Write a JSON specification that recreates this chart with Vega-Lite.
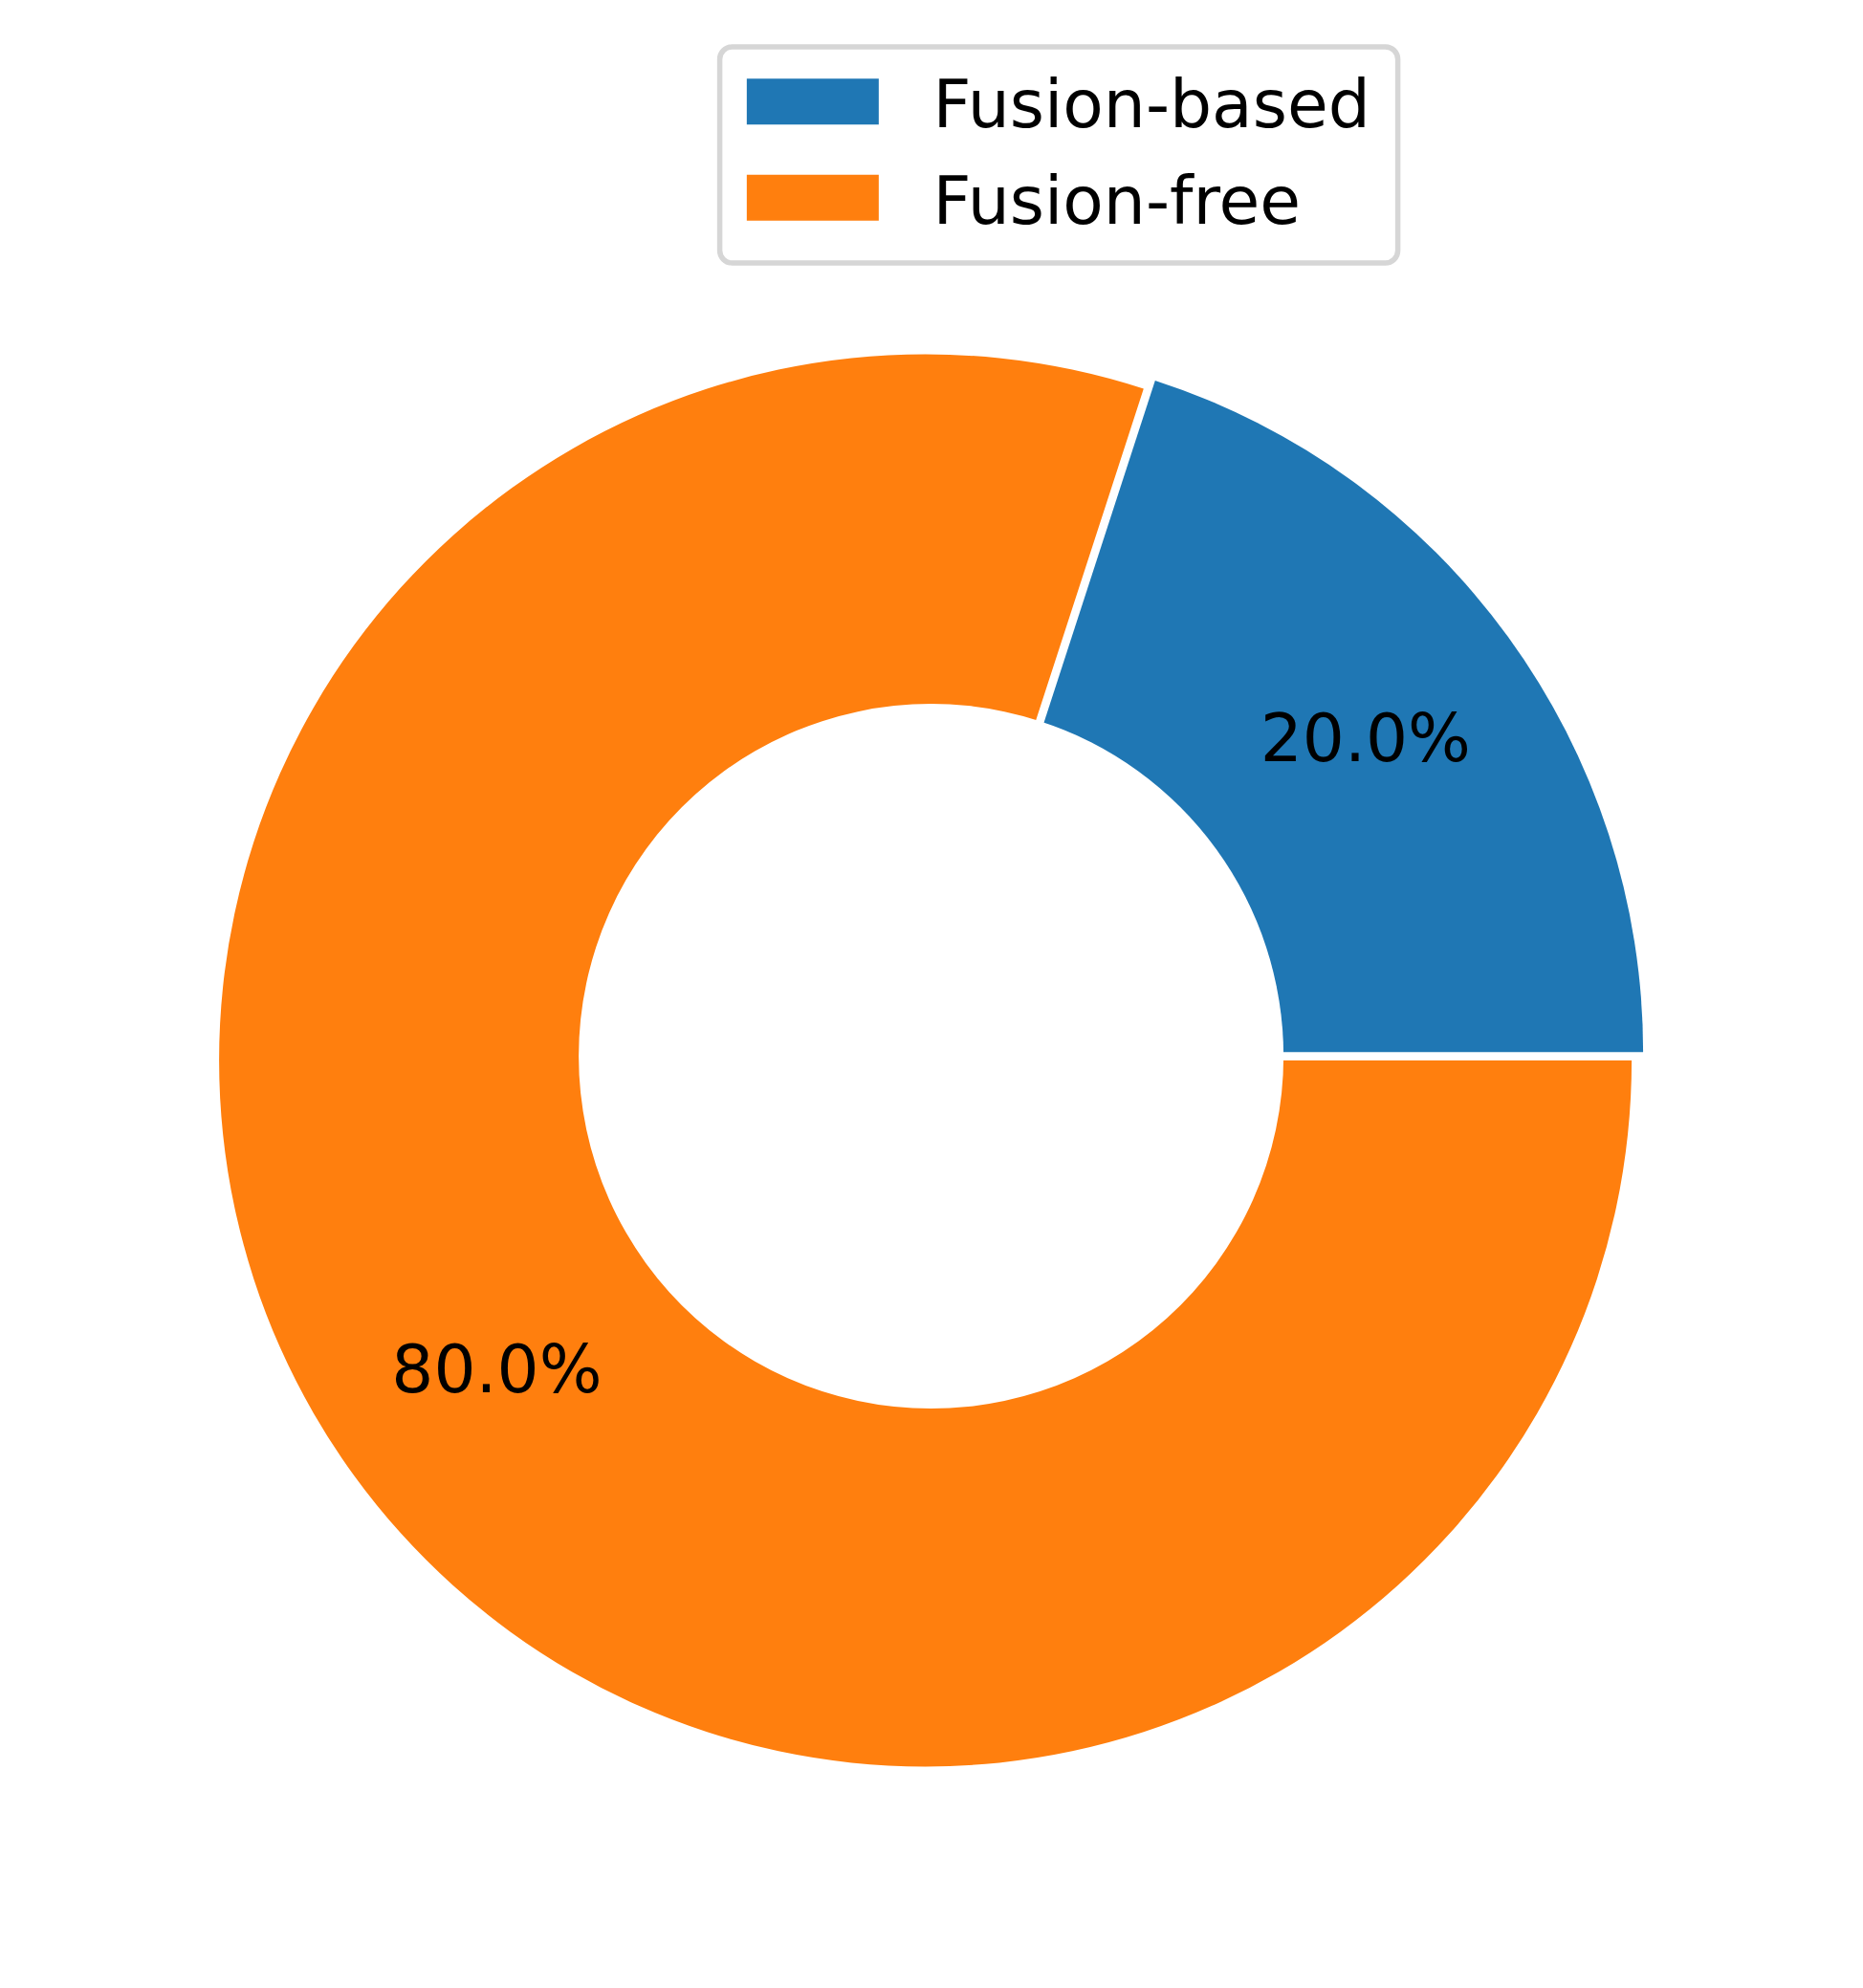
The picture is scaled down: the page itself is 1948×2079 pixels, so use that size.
{
  "$schema": "https://vega.github.io/schema/vega-lite/v6.json",
  "width": 1946,
  "height": 1937.2,
  "autosize": {"type": "none"},
  "padding": {"top": 136, "left": 0.6, "right": 1.4, "bottom": 5.8},
  "background": "white",
  "config": {"view": {"stroke": null}, "font": "DejaVu Sans"},
  "data": {
    "values": [
      {"category": "Fusion-based", "share": 20, "label": "20.0%"},
      {"category": "Fusion-free", "share": 80, "label": "80.0%"}
    ]
  },
  "encoding": {
    "theta": {"field": "share", "type": "quantitative", "stack": true, "scale": {"range": [0.3141593, 6.5973446]}},
    "order": {"field": "category", "sort": "ascending"},
    "color": {
      "field": "category",
      "type": "nominal",
      "scale": {"domain": ["Fusion-based", "Fusion-free"], "range": ["#1f77b4", "#ff7f0e"]},
      "legend": {
        "title": null,
        "orient": "none",
        "legendX": 752,
        "legendY": -87,
        "direction": "vertical",
        "symbolType": "M-1,-0.856H2.971V0.525H-1Z",
        "symbolSize": 4830.25,
        "symbolStrokeWidth": 0,
        "symbolOpacity": 1,
        "labelFontSize": 69.5,
        "labelFont": "DejaVu Sans",
        "labelColor": "black",
        "labelLimit": 1000,
        "labelOffset": 125,
        "rowPadding": 30.5,
        "padding": 28,
        "strokeColor": "#d6d6d6",
        "cornerRadius": 13,
        "fillColor": "white",
        "encode": {"legend": {"update": {"strokeWidth": {"value": 5.5}}}}
      }
    }
  },
  "layer": [
    {
      "mark": {"type": "arc", "outerRadius": 738.5, "innerRadius": 0, "xOffset": -6, "yOffset": 4.35},
      "encoding": {"opacity": {"condition": {"test": "datum.category === 'Fusion-based'", "value": 0}, "value": 1}}
    },
    {
      "mark": {"type": "arc", "outerRadius": 738.5, "innerRadius": 0, "xOffset": 6, "yOffset": -4.35},
      "encoding": {"opacity": {"condition": {"test": "datum.category === 'Fusion-free'", "value": 0}, "value": 1}}
    },
    {
      "mark": {"type": "arc", "outerRadius": 368.5, "innerRadius": 0},
      "encoding": {"color": {"value": "white"}}
    },
    {
      "mark": {"type": "text", "radius": 554, "fontSize": 69.3, "font": "DejaVu Sans", "xOffset": -6, "yOffset": 4.35},
      "encoding": {
        "text": {"field": "label"},
        "color": {"value": "black"},
        "opacity": {"condition": {"test": "datum.category === 'Fusion-based'", "value": 0}, "value": 1}
      }
    },
    {
      "mark": {"type": "text", "radius": 554, "fontSize": 69.3, "font": "DejaVu Sans", "xOffset": 6, "yOffset": -4.35},
      "encoding": {
        "text": {"field": "label"},
        "color": {"value": "black"},
        "opacity": {"condition": {"test": "datum.category === 'Fusion-free'", "value": 0}, "value": 1}
      }
    }
  ]
}
